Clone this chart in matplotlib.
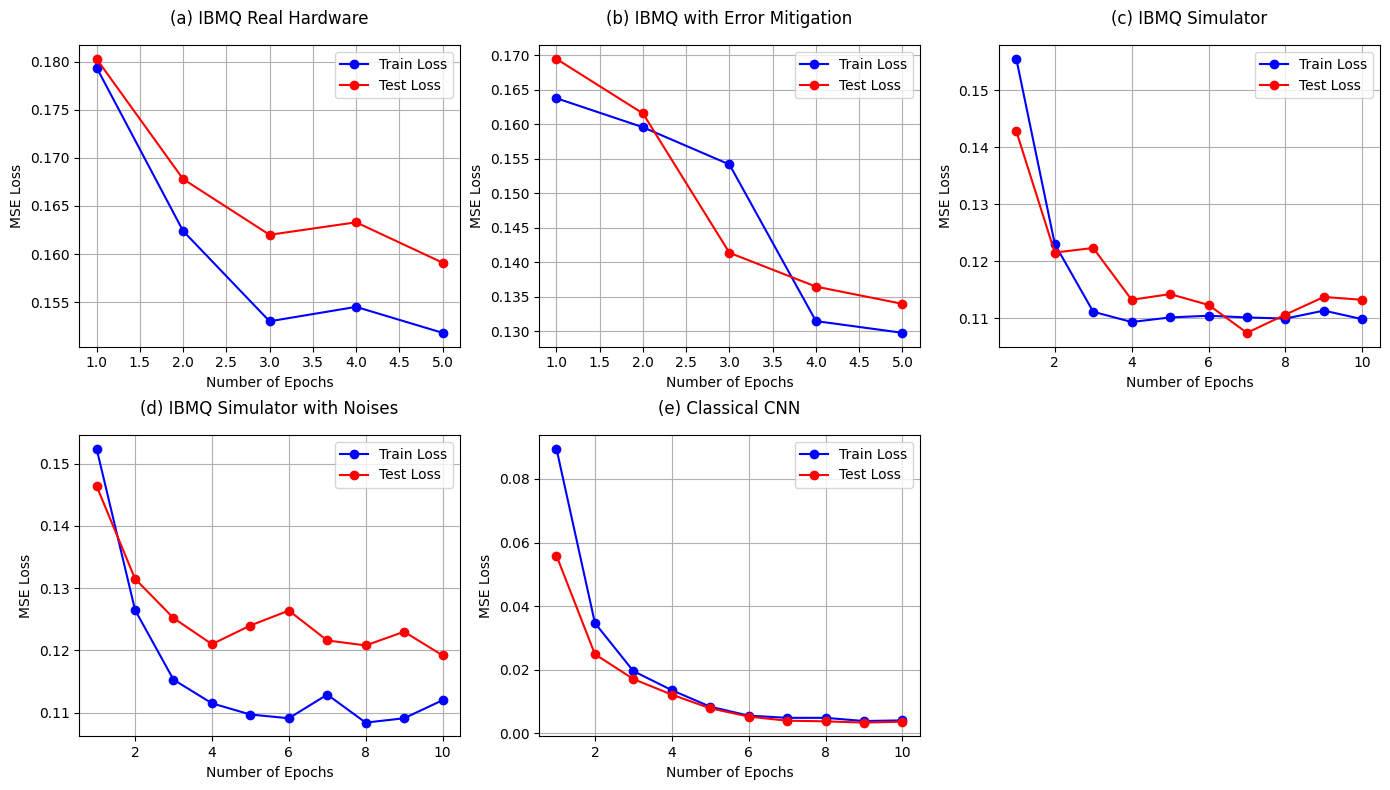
import matplotlib
matplotlib.use("Agg")
import matplotlib.pyplot as plt
from matplotlib.ticker import MultipleLocator

epochs_5 = [1, 2, 3, 4, 5]
epochs_10 = [1, 2, 3, 4, 5, 6, 7, 8, 9, 10]

real_train = [0.1794, 0.1624, 0.1530, 0.1545, 0.1518]
real_test = [0.1803, 0.1678, 0.1620, 0.1633, 0.1591]

mitig_train = [0.1638, 0.1596, 0.1542, 0.1315, 0.1298]
mitig_test = [0.1695, 0.1616, 0.1414, 0.1365, 0.1340]

sim_train = [0.1555, 0.1230, 0.1111, 0.1093, 0.1101, 0.1104, 0.1101, 0.1099, 0.1113, 0.1098]
sim_test = [0.1428, 0.1215, 0.1223, 0.1132, 0.1142, 0.1123, 0.1074, 0.1106, 0.1137, 0.1132]

noise_train = [0.1524, 0.1265, 0.1153, 0.1115, 0.1097, 0.1091, 0.1129, 0.1084, 0.1091, 0.1120]
noise_test = [0.1464, 0.1315, 0.1252, 0.1210, 0.1240, 0.1264, 0.1216, 0.1208, 0.1230, 0.1192]

cnn_train = [0.0895, 0.0347, 0.0196, 0.0136, 0.0084, 0.0056, 0.0049, 0.0049, 0.0039, 0.0041]
cnn_test = [0.0559, 0.0249, 0.0171, 0.0122, 0.0079, 0.0053, 0.0040, 0.0038, 0.0034, 0.0037]

panels = [
    ("(a) IBMQ Real Hardware", epochs_5, real_train, real_test),
    ("(b) IBMQ with Error Mitigation", epochs_5, mitig_train, mitig_test),
    ("(c) IBMQ Simulator", epochs_10, sim_train, sim_test),
    ("(d) IBMQ Simulator with Noises", epochs_10, noise_train, noise_test),
    ("(e) Classical CNN", epochs_10, cnn_train, cnn_test),
]

fig, axes = plt.subplots(2, 3, figsize=(13.9, 7.9), dpi=100)
axes = axes.flatten()

for ax, (title, x, train, test) in zip(axes, panels):
    ax.plot(x, train, "o-", color="blue", label="Train Loss")
    ax.plot(x, test, "o-", color="red", label="Test Loss")
    ax.set_title(title, pad=15)
    ax.set_xlabel("Number of Epochs")
    ax.set_ylabel("MSE Loss")
    ax.grid(True)
    ax.legend(loc="upper right")
    if len(x) == 5:
        ax.xaxis.set_major_locator(MultipleLocator(0.5))

axes[5].remove()

plt.tight_layout(pad=0.75)
plt.savefig("out.png")
